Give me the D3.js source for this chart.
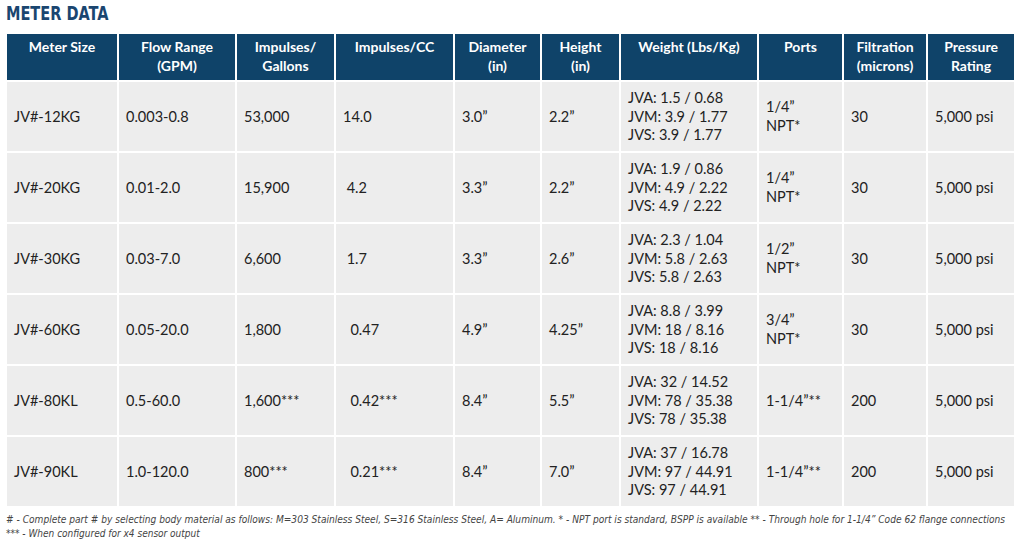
<!DOCTYPE html><html><head><meta charset="utf-8">
<script src="https://cdn.jsdelivr.net/npm/d3@7"></script>
<style>body{margin:0;background:#fff}</style></head><body><svg id="c" width="1022" height="542"></svg>
<script>
const headers=[["Meter Size"],["Flow Range","(GPM)"],["Impulses/","Gallons"],["Impulses/CC"],["Diameter","(in)"],["Height","(in)"],["Weight (Lbs/Kg)"],["Ports"],["Filtration","(microns)"],["Pressure","Rating"]];
const meterSizes=["JV#-12KG","JV#-20KG","JV#-30KG","JV#-60KG","JV#-80KL","JV#-90KL"];
const flowRange=["0.003-0.8","0.01-2.0","0.03-7.0","0.05-20.0","0.5-60.0","1.0-120.0"];
const impGal=["53,000","15,900","6,600","1,800","1,600***","800***"];
const impCC=["14.0"," 4.2"," 1.7","  0.47","  0.42***","  0.21***"];
const diameter=["3.0\u201d","3.3\u201d","3.3\u201d","4.9\u201d","8.4\u201d","8.4\u201d"];
const height=["2.2\u201d","2.2\u201d","2.6\u201d","4.25\u201d","5.5\u201d","7.0\u201d"];
const weights=[["JVA: 1.5 / 0.68","JVM: 3.9 / 1.77","JVS: 3.9 / 1.77"],["JVA: 1.9 / 0.86","JVM: 4.9 / 2.22","JVS: 4.9 / 2.22"],["JVA: 2.3 / 1.04","JVM: 5.8 / 2.63","JVS: 5.8 / 2.63"],["JVA: 8.8 / 3.99","JVM: 18 / 8.16","JVS: 18 / 8.16"],["JVA: 32 / 14.52","JVM: 78 / 35.38","JVS: 78 / 35.38"],["JVA: 37 / 16.78","JVM: 97 / 44.91","JVS: 97 / 44.91"]];
const ports=[["1/4\u201d","NPT*"],["1/4\u201d","NPT*"],["1/2\u201d","NPT*"],["3/4\u201d","NPT*"],["1-1/4\u201d**"],["1-1/4\u201d**"]];
const filtration=["30","30","30","30","200","200"];
const pressure=["5,000 psi","5,000 psi","5,000 psi","5,000 psi","5,000 psi","5,000 psi"];
const colEdges=[6,118,236,335,454,541,620,758,843,927,1015];
const svg=d3.select("#c");
const font="Lato, 'Open Sans', sans-serif";
svg.append("text").attr("x",6).attr("y",20).attr("font-family","'DejaVu Sans Condensed','DejaVu Sans',sans-serif").attr("font-weight","bold").attr("font-size",19).attr("fill","#1a4670").attr("transform","translate(6,0) scale(0.85,1) translate(-6,0)").text("METER DATA");
const y=d3.scaleBand().domain(d3.range(6)).range([81,507]);
const hTop=33,hBot=81;
// header
for(let c=0;c<10;c++){
  svg.append("rect").attr("x",colEdges[c]).attr("y",hTop).attr("width",colEdges[c+1]-colEdges[c]).attr("height",hBot-hTop).attr("fill","#0f4369").attr("stroke","#fff").attr("stroke-width",2);
  const cx=(colEdges[c]+colEdges[c+1])/2;
  const t=svg.append("text").attr("x",cx).attr("text-anchor","middle").attr("font-family",font).attr("font-weight","bold").attr("font-size",14).attr("fill","#fff");
  headers[c].forEach((l,i)=>t.append("tspan").attr("x",cx).attr("y",hTop+19+i*19).text(l));
}
const cols=[meterSizes,flowRange,impGal,impCC,diameter,height,weights,ports,filtration,pressure];
for(let r=0;r<6;r++){
  for(let c=0;c<10;c++){
    svg.append("rect").attr("x",colEdges[c]).attr("y",y(r)).attr("width",colEdges[c+1]-colEdges[c]).attr("height",y.bandwidth()).attr("fill","#ededed").attr("stroke","#fff").attr("stroke-width",2);
    let v=cols[c][r]; const lines=Array.isArray(v)?v:[v];
    const cy=y(r)+y.bandwidth()/2, lh=18.5;
    const t=svg.append("text").attr("font-family",font).attr("font-size",14.5).attr("fill","#222").attr("xml:space","preserve").style("white-space","pre");
    lines.forEach((l,i)=>t.append("tspan").attr("x",colEdges[c]+8).attr("y",cy+5+(i-(lines.length-1)/2)*lh).text(l));
  }
}
const ft=svg.append("text").attr("font-family","'Liberation Sans Narrow','DejaVu Sans Condensed',sans-serif").attr("font-style","italic").attr("font-size",10).attr("fill","#444");
ft.append("tspan").attr("x",6).attr("y",523).attr("textLength",999).attr("lengthAdjust","spacingAndGlyphs").text("# - Complete part # by selecting body material as follows: M=303 Stainless Steel, S=316 Stainless Steel, A= Aluminum. * - NPT port is standard, BSPP is available ** - Through hole for 1-1/4\u201d Code 62 flange connections");
ft.append("tspan").attr("x",6).attr("y",537).text("*** - When configured for x4 sensor output");
</script></body></html>
